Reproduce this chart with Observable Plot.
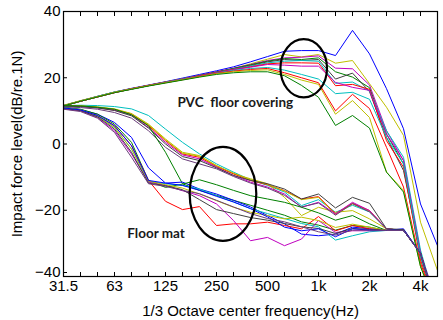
<!DOCTYPE html>
<html><head><meta charset="utf-8">
<script src="https://cdn.jsdelivr.net/npm/d3@7"></script>
<script src="https://cdn.jsdelivr.net/npm/@observablehq/plot@0.6"></script>
<style>
html,body{margin:0;padding:0;background:#fff;}
#chart{width:443px;height:320px;}
</style>
</head><body><div id="chart"></div>
<script>
// 1/3 octave bands 31.5 Hz ... 5 kHz (index 0..22)
const bands = ["31.5","40","50","63","80","100","125","160","200","250","315","400","500","630","800","1k","1.25k","1.6k","2k","2.5k","3.15k","4k","5k"];
const tickLabels = {0:"31.5",3:"63",6:"125",9:"250",12:"500",15:"1k",18:"2k",21:"4k"};
const yTicksUpper = [-20,0,20,40];
const yTicksBottom = [-40];

const colors = {b:"#0000FF", g:"#008000", r:"#FF0000", c:"#00BFBF", m:"#BF00BF", y:"#BFBF00", k:"#404040", p:"#6A3D7A"};

// PVC floor covering
const pvc1 = [11.6,13.0,14.4,15.7,16.8,17.8,18.8,19.9,21.0,22.1,23.3,24.8,26.4,28.0,28.2,28.2,26.7,34.3,27.2,16.7,4.6,-18.1,-30.7];
const pvc2 = [11.7,13.1,14.4,15.7,16.7,17.7,18.6,19.6,20.6,21.6,22.8,24.2,25.6,27.0,26.3,27.0,24.4,25.2,18.2,11.1,2.6,-23.6,-38.2];
const pvc3 = [11.6,13.0,14.3,15.6,16.7,17.7,18.7,19.7,20.7,21.8,22.9,24.0,25.2,26.0,26.2,26.6,22.9,22.7,17.8,4,-5,-33,-48];
const pvc4 = [11.5,12.9,14.2,15.5,16.6,17.6,18.6,19.6,20.6,21.7,22.8,23.9,25.0,25.8,25.5,26.0,21.8,20.2,17.0,3,-6,-34,-50];
const pvc5 = [11.5,12.9,14.3,15.6,16.7,17.7,18.7,19.7,20.7,21.7,22.7,23.7,24.8,25.5,25.2,25.5,19.6,21.4,15.8,2,-8,-33,-50];
const pvc6 = [11.6,13.0,14.4,15.7,16.7,17.7,18.7,19.7,20.6,21.6,22.6,23.5,24.5,25.0,25.2,25.0,18.3,18.7,16.0,4,-4,-32,-50];
const pvc7 = [11.6,13.0,14.3,15.6,16.7,17.7,18.7,19.6,20.6,21.6,22.5,23.3,24.2,24.5,24.5,24.4,17.6,18.0,16.5,1,-7,-35,-50];
const pvc8 = [11.5,12.9,14.2,15.5,16.6,17.6,18.6,19.6,20.5,21.5,22.4,23.2,24.0,23.8,23.5,23.5,18.6,17.1,16.2,3,-5,-33,-50];
const pvc9 = [11.6,13.0,14.3,15.6,16.6,17.6,18.6,19.5,20.4,21.4,22.2,22.8,23.1,22.3,21.0,19.6,15.2,15.6,13.5,2,-6,-34,-50];
const pvc10 = [11.5,12.9,14.2,15.5,16.6,17.6,18.5,19.4,20.4,21.3,22.0,22.5,22.8,21.5,20.0,18.5,10.0,15.0,10.7,-1,-13,-36,-50];
const pvc11 = [11.6,13.0,14.3,15.6,16.6,17.6,18.5,19.4,20.3,21.2,21.8,22.2,22.4,21.0,19.3,18.0,9.0,13.1,8.0,-8.5,-14,-37,-50];
const pvc12 = [11.5,12.9,14.2,15.5,16.5,17.5,18.4,19.3,20.2,21.0,21.5,21.8,21.8,20.6,17.7,14.1,5.6,8.6,4.8,-8.5,-14.5,-37,-50];

// Floor mat (upper subgroup)
const mat1 = [11.6,11.7,11.6,11.3,10.6,8.6,4.5,0.5,-3.0,-6.0,-8.5,-10.8,-12.5,-14.5,-18.6,-16.8,-20.6,-18.5,-20.5,-25.6,-26.1,-33,-50];
const mat2 = [11.6,11.5,11.2,10.6,9.2,6.0,1.5,-2.5,-3.5,-6.5,-9.0,-10.5,-12.0,-16.1,-21.6,-19.1,-20.6,-20.1,-22.6,-25.6,-26.1,-33,-50];
const mat3 = [11.5,11.4,11.0,10.4,9.0,5.5,1.0,-3.0,-4.0,-6.8,-9.0,-11.0,-12.3,-14.1,-16.6,-15.9,-21.1,-17.9,-20.1,-25.6,-26.1,-33,-50];
const mat4 = [11.6,11.5,11.1,10.5,9.1,5.8,1.2,-2.8,-3.7,-6.6,-8.8,-10.8,-12.2,-14.2,-16.8,-16.1,-21.3,-18.1,-20.3,-25.6,-26.1,-33,-50];
const mat5 = [11.5,11.3,10.9,10.2,8.8,5.0,0.5,-3.3,-4.5,-7.0,-9.5,-11.5,-13.0,-15.1,-19.1,-17.6,-21.1,-17.6,-20.1,-25.6,-26.1,-33,-50];
const mat6 = [11.4,11.3,10.9,10.1,8.5,4.8,0.0,-3.8,-5.0,-7.2,-9.5,-11.0,-12.0,-13.6,-16.6,-15.1,-19.3,-16.1,-17.9,-25.6,-25.8,-33,-50];
const mat7 = [11.2,11.0,10.5,9.5,7.8,4.0,-1.0,-4.5,-6.0,-7.5,-9.8,-11.8,-13.3,-15.5,-19.0,-17.8,-21.5,-18.0,-20.5,-25.6,-26.1,-33,-50];
const mat8 = [11.6,11.5,11.1,10.5,8.8,5.5,-2.5,-12.0,-14.0,-15.5,-17.0,-18.5,-20.0,-21.5,-23.5,-24.5,-26.0,-24.6,-25.1,-26.1,-26.1,-33,-50];
// Floor mat (lower subgroup)
const mat9 = [11.0,10.4,9.0,6.5,2.0,-7.2,-11.8,-11.5,-13.6,-15.1,-17.0,-19.0,-21.6,-24.1,-27.2,-27.7,-27.2,-25.1,-25.6,-26.1,-25.6,-33,-50];
const mat10 = [11.0,10.5,9.0,6.0,0.5,-11.0,-13.1,-12.1,-10.8,-12.3,-14.0,-15.6,-16.6,-17.6,-19.1,-20.8,-23.0,-21.6,-24.1,-26.1,-26.1,-33,-50];
const mat11 = [10.8,10.2,8.6,5.5,-0.5,-11.0,-17.3,-19.8,-18.9,-24.6,-24.1,-24.1,-23.6,-24.6,-25.6,-21.9,-26.2,-24.6,-25.6,-26.1,-26.1,-33,-50];
const mat12 = [10.9,10.3,8.5,5.0,-1.5,-11.3,-12.0,-12.5,-13.6,-15.6,-17.5,-19.5,-21.0,-22.5,-24.0,-25.0,-29.0,-27.7,-26.5,-26.1,-26.1,-33,-50];
const mat13 = [10.6,10.0,8.0,4.0,-3.0,-11.5,-12.5,-14.1,-15.6,-18.1,-23.1,-29.2,-28.2,-30.7,-28.7,-23.1,-26.7,-26.2,-26.2,-26.1,-26.1,-33,-50];
const mat14 = [10.9,10.3,8.4,5.0,-1.5,-11.2,-12.3,-13.3,-15.1,-17.1,-19.1,-20.6,-21.6,-22.6,-22.1,-23.1,-25.2,-24.2,-25.1,-26.1,-26.1,-33,-50];
const mat15 = [10.7,10.1,8.2,4.5,-2.5,-11.8,-12.6,-13.8,-16.8,-19.8,-21.0,-22.2,-23.0,-24.0,-25.0,-25.5,-27.0,-25.5,-25.8,-26.1,-25.8,-33,-50];
const mat16 = [10.9,10.3,8.6,5.5,-0.5,-11.0,-11.8,-12.5,-14.0,-15.8,-17.5,-19.5,-22.0,-25.1,-26.2,-25.6,-28.0,-25.6,-26.0,-26.1,-26.1,-33,-50];
const mat17 = [10.5,9.8,7.8,3.5,-4.0,-12.0,-12.8,-14.0,-15.0,-17.0,-19.0,-21.0,-22.5,-23.5,-25.0,-26.5,-27.5,-26.0,-26.0,-26.1,-26.1,-33,-50];

const seriesList = [
  [pvc1,"b"],[pvc2,"y"],[pvc3,"m"],[pvc4,"g"],[pvc5,"k"],[pvc6,"c"],[pvc7,"r"],[pvc8,"m"],[pvc9,"c"],[pvc10,"r"],[pvc11,"y"],[pvc12,"g"],
  [mat1,"c"],[mat2,"y"],[mat3,"r"],[mat4,"y"],[mat5,"m"],[mat6,"k"],[mat7,"p"],[mat8,"g"],
  [mat9,"b"],[mat10,"g"],[mat11,"r"],[mat12,"c"],[mat13,"m"],[mat14,"y"],[mat15,"k"],[mat16,"b"],[mat17,"p"]
];

const annotations = [
  {text:"PVC  floor covering", x:6.7, y:12.6},
  {text:"Floor mat", x:3.75, y:-27.1}
];
const ellipses = [
  {x:14.16, y:22.7, rx:1.37, ry:8.8},
  {x:9.41, y:-15.2, rx:1.96, ry:14.2}
];

const idx = d3.range(bands.length);
const lineMarks = seriesList.map(([vals, c]) =>
  Plot.line(vals.map((v,i)=>({i, v})), {x:"i", y:"v", stroke: colors[c], strokeWidth: 1, clip: true})
);

function ellipseMark(index, scales) {
  const g = d3.create("svg:g").attr("fill","none").attr("stroke","#000").attr("stroke-width",2.2);
  for (const e of ellipses) {
    const cx = scales.x(e.x), cy = scales.y(e.y);
    g.append("ellipse").attr("cx",cx).attr("cy",cy)
      .attr("rx", scales.x(e.x+e.rx)-cx).attr("ry", cy - scales.y(e.y+e.ry));
  }
  return g.node();
}

const plot = Plot.plot({
  width: 443, height: 320,
  marginLeft: 63, marginRight: 6, marginTop: 11, marginBottom: 44,
  style: {fontFamily: "'Liberation Sans', Arial, sans-serif", fontSize: "15px", color:"#000", background:"#fff"},
  x: {domain: [0, 22], axis: null},
  y: {domain: [-40, 40], axis: null},
  marks: [
    ...lineMarks,
    ellipseMark,
    Plot.text(annotations, {x:"x", y:"y", text:"text", textAnchor:"start", fontWeight:"bold", fontSize: 13.5, fontFamily:"Lato, 'Open Sans', sans-serif", fill:"#1a1a1a"}),
    Plot.axisX({anchor:"bottom", ticks: idx, tickSize: -4, tickFormat: () => "", stroke:"#000"}),
    Plot.axisX({anchor:"top", ticks: idx, tickSize: -4, tickFormat: () => "", stroke:"#000"}),
    Plot.axisX({anchor:"bottom", ticks: Object.keys(tickLabels).map(Number), tickSize: 0, tickPadding: 4, tickFormat: i => tickLabels[i], fontSize: 15, label: "1/3 Octave center frequency(Hz)", labelAnchor:"center", labelOffset: 39, labelArrow: "none"}),
    Plot.axisY({anchor:"left", ticks: yTicksUpper, tickSize: -4, tickPadding: 7, fontSize: 15, label: "Impact force level(dB/re.1N)", labelAnchor:"center", labelOffset: 52, labelArrow:"none"}),
    Plot.axisY({anchor:"left", ticks: yTicksBottom, tickSize: -4, tickPadding: 7, fontSize: 15, dy: -4, label: null}),
    Plot.axisY({anchor:"right", ticks: [...yTicksBottom, ...yTicksUpper], tickSize: -4, tickFormat: () => ""}),
    Plot.frame({stroke:"#000", strokeWidth: 1.2})
  ]
});
document.getElementById("chart").appendChild(plot);
</script>
</body></html>
